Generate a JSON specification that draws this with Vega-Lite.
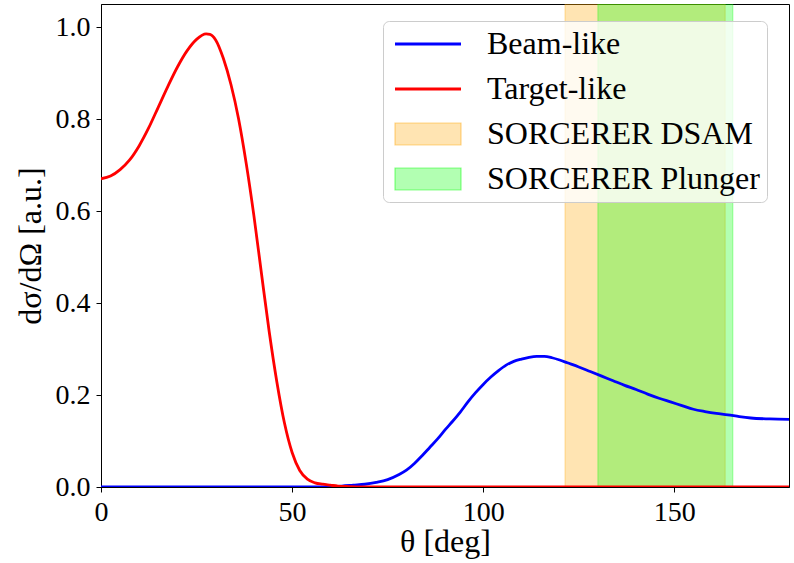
{
  "$schema": "https://vega.github.io/schema/vega-lite/v6.json",
  "width": 688,
  "height": 483,
  "autosize": {"type": "none"},
  "padding": {"left": 101, "top": 4, "right": 5, "bottom": 76},
  "background": "white",
  "config": {
    "view": {"stroke": "black", "strokeWidth": 1},
    "font": "Liberation Serif",
    "axis": {
      "grid": false,
      "domainColor": "black",
      "domainWidth": 1,
      "tickColor": "black",
      "tickWidth": 1,
      "tickSize": 5,
      "labelColor": "black",
      "titleColor": "black",
      "labelFont": "Liberation Serif",
      "titleFont": "Liberation Serif",
      "labelFontSize": 28,
      "titleFontSize": 32,
      "titleFontWeight": "normal",
      "labelPadding": 6,
      "labelFlush": false,
      "labelOverlap": false
    },
    "legend": {
      "orient": "none",
      "legendX": 282,
      "legendY": 17,
      "padding": 7,
      "fillColor": "rgba(255,255,255,0.8)",
      "strokeColor": "#cccccc",
      "cornerRadius": 6,
      "labelFont": "Liberation Serif",
      "labelFontSize": 32,
      "labelColor": "black",
      "labelLimit": 400,
      "symbolSize": 484,
      "rowPadding": 13,
      "labelOffset": 65
    }
  },
  "datasets": {
    "bands": [
      {"series": "SORCERER DSAM", "start": 121.4, "end": 163.3},
      {"series": "SORCERER Plunger", "start": 130.0, "end": 165.3}
    ],
    "curves": [
      {"series": "Beam-like", "theta": 0, "value": 0},
      {"series": "Beam-like", "theta": 20, "value": 0},
      {"series": "Beam-like", "theta": 40, "value": 0},
      {"series": "Beam-like", "theta": 55, "value": 0},
      {"series": "Beam-like", "theta": 60, "value": 0.001},
      {"series": "Beam-like", "theta": 63, "value": 0.002},
      {"series": "Beam-like", "theta": 66, "value": 0.004},
      {"series": "Beam-like", "theta": 69, "value": 0.006},
      {"series": "Beam-like", "theta": 72, "value": 0.010},
      {"series": "Beam-like", "theta": 75, "value": 0.016},
      {"series": "Beam-like", "theta": 78, "value": 0.027},
      {"series": "Beam-like", "theta": 80, "value": 0.037},
      {"series": "Beam-like", "theta": 82, "value": 0.051},
      {"series": "Beam-like", "theta": 84, "value": 0.068},
      {"series": "Beam-like", "theta": 86, "value": 0.086},
      {"series": "Beam-like", "theta": 88, "value": 0.104},
      {"series": "Beam-like", "theta": 90, "value": 0.124},
      {"series": "Beam-like", "theta": 92, "value": 0.143},
      {"series": "Beam-like", "theta": 94, "value": 0.163},
      {"series": "Beam-like", "theta": 96, "value": 0.185},
      {"series": "Beam-like", "theta": 98, "value": 0.205},
      {"series": "Beam-like", "theta": 100, "value": 0.223},
      {"series": "Beam-like", "theta": 102, "value": 0.239},
      {"series": "Beam-like", "theta": 104, "value": 0.253},
      {"series": "Beam-like", "theta": 106, "value": 0.265},
      {"series": "Beam-like", "theta": 108, "value": 0.273},
      {"series": "Beam-like", "theta": 110, "value": 0.278},
      {"series": "Beam-like", "theta": 112, "value": 0.282},
      {"series": "Beam-like", "theta": 114, "value": 0.284},
      {"series": "Beam-like", "theta": 116, "value": 0.284},
      {"series": "Beam-like", "theta": 118, "value": 0.281},
      {"series": "Beam-like", "theta": 120, "value": 0.276},
      {"series": "Beam-like", "theta": 122, "value": 0.270},
      {"series": "Beam-like", "theta": 125, "value": 0.261},
      {"series": "Beam-like", "theta": 128, "value": 0.251},
      {"series": "Beam-like", "theta": 131, "value": 0.241},
      {"series": "Beam-like", "theta": 134, "value": 0.231},
      {"series": "Beam-like", "theta": 137, "value": 0.221},
      {"series": "Beam-like", "theta": 140, "value": 0.212},
      {"series": "Beam-like", "theta": 143, "value": 0.202},
      {"series": "Beam-like", "theta": 146, "value": 0.193},
      {"series": "Beam-like", "theta": 149, "value": 0.185},
      {"series": "Beam-like", "theta": 152, "value": 0.177},
      {"series": "Beam-like", "theta": 155, "value": 0.169},
      {"series": "Beam-like", "theta": 158, "value": 0.164},
      {"series": "Beam-like", "theta": 161, "value": 0.160},
      {"series": "Beam-like", "theta": 164, "value": 0.157},
      {"series": "Beam-like", "theta": 167, "value": 0.153},
      {"series": "Beam-like", "theta": 170, "value": 0.150},
      {"series": "Beam-like", "theta": 175, "value": 0.148},
      {"series": "Beam-like", "theta": 180, "value": 0.147},
      {"series": "Target-like", "theta": 0, "value": 0.670},
      {"series": "Target-like", "theta": 2.5, "value": 0.676},
      {"series": "Target-like", "theta": 5, "value": 0.690},
      {"series": "Target-like", "theta": 7.5, "value": 0.711},
      {"series": "Target-like", "theta": 10, "value": 0.742},
      {"series": "Target-like", "theta": 12.5, "value": 0.781},
      {"series": "Target-like", "theta": 15, "value": 0.826},
      {"series": "Target-like", "theta": 17.5, "value": 0.871},
      {"series": "Target-like", "theta": 20, "value": 0.913},
      {"series": "Target-like", "theta": 22.5, "value": 0.948},
      {"series": "Target-like", "theta": 25, "value": 0.973},
      {"series": "Target-like", "theta": 27.5, "value": 0.985},
      {"series": "Target-like", "theta": 28.5, "value": 0.984},
      {"series": "Target-like", "theta": 30, "value": 0.972},
      {"series": "Target-like", "theta": 32, "value": 0.932},
      {"series": "Target-like", "theta": 34, "value": 0.875},
      {"series": "Target-like", "theta": 36, "value": 0.800},
      {"series": "Target-like", "theta": 38, "value": 0.703},
      {"series": "Target-like", "theta": 40, "value": 0.590},
      {"series": "Target-like", "theta": 42, "value": 0.463},
      {"series": "Target-like", "theta": 44, "value": 0.338},
      {"series": "Target-like", "theta": 46, "value": 0.229},
      {"series": "Target-like", "theta": 48, "value": 0.139},
      {"series": "Target-like", "theta": 50, "value": 0.075},
      {"series": "Target-like", "theta": 52, "value": 0.036},
      {"series": "Target-like", "theta": 54, "value": 0.017},
      {"series": "Target-like", "theta": 56, "value": 0.009},
      {"series": "Target-like", "theta": 58, "value": 0.006},
      {"series": "Target-like", "theta": 60, "value": 0.004},
      {"series": "Target-like", "theta": 62, "value": 0.002},
      {"series": "Target-like", "theta": 65, "value": 0.001},
      {"series": "Target-like", "theta": 70, "value": 0},
      {"series": "Target-like", "theta": 100, "value": 0},
      {"series": "Target-like", "theta": 140, "value": 0},
      {"series": "Target-like", "theta": 180, "value": 0}
    ]
  },
  "layer": [
    {
      "data": {"name": "bands"},
      "mark": {"type": "rect", "fillOpacity": 0.3, "strokeOpacity": 0.3, "strokeWidth": 1.2, "clip": true},
      "encoding": {
        "x": {"field": "start", "type": "quantitative", "scale": {"domain": [0, 180], "nice": false, "zero": false}},
        "x2": {"field": "end"},
        "color": {
          "field": "series",
          "type": "nominal",
          "scale": {
            "domain": ["Beam-like", "Target-like", "SORCERER DSAM", "SORCERER Plunger"],
            "range": ["#0000ff", "#ff0000", "#ffa500", "#00ff00"]
          },
          "legend": {
            "title": null,
            "encode": {
              "symbols": {
                "update": {
                  "shape": {"signal": "datum.value == 'Beam-like' || datum.value == 'Target-like' ? 'M-1,0H5' : 'M-1,-1H5V1H-1Z'"},
                  "fill": {"signal": "datum.value == 'Beam-like' || datum.value == 'Target-like' ? 'transparent' : scale('color', datum.value)"},
                  "fillOpacity": {"value": 0.3},
                  "stroke": {"signal": "scale('color', datum.value)"},
                  "strokeOpacity": {"signal": "datum.value == 'Beam-like' || datum.value == 'Target-like' ? 1 : 0.45"},
                  "strokeWidth": {"signal": "datum.value == 'Beam-like' || datum.value == 'Target-like' ? 2.8 : 1.2"},
                  "opacity": {"value": 1},
                  "size": {"value": 484}
                }
              }
            }
          }
        },
        "stroke": {
          "field": "series",
          "type": "nominal",
          "scale": {"domain": ["SORCERER DSAM", "SORCERER Plunger"], "range": ["#ffa500", "#00ff00"]},
          "legend": null
        }
      }
    },
    {
      "data": {"name": "curves"},
      "mark": {"type": "line", "strokeWidth": 2.8, "clip": true, "interpolate": "monotone"},
      "encoding": {
        "x": {
          "field": "theta",
          "type": "quantitative",
          "scale": {"domain": [0, 180], "nice": false, "zero": false},
          "axis": {"values": [0, 50, 100, 150], "title": "θ [deg]", "titlePadding": 0}
        },
        "y": {
          "field": "value",
          "type": "quantitative",
          "scale": {"domain": [0, 1.05], "nice": false},
          "axis": {"values": [0, 0.2, 0.4, 0.6, 0.8, 1.0], "format": ".1f", "title": "dσ/dΩ [a.u.]", "titlePadding": 8}
        },
        "color": {"field": "series", "type": "nominal"},
        "order": {"field": "theta", "type": "quantitative"}
      }
    }
  ]
}
